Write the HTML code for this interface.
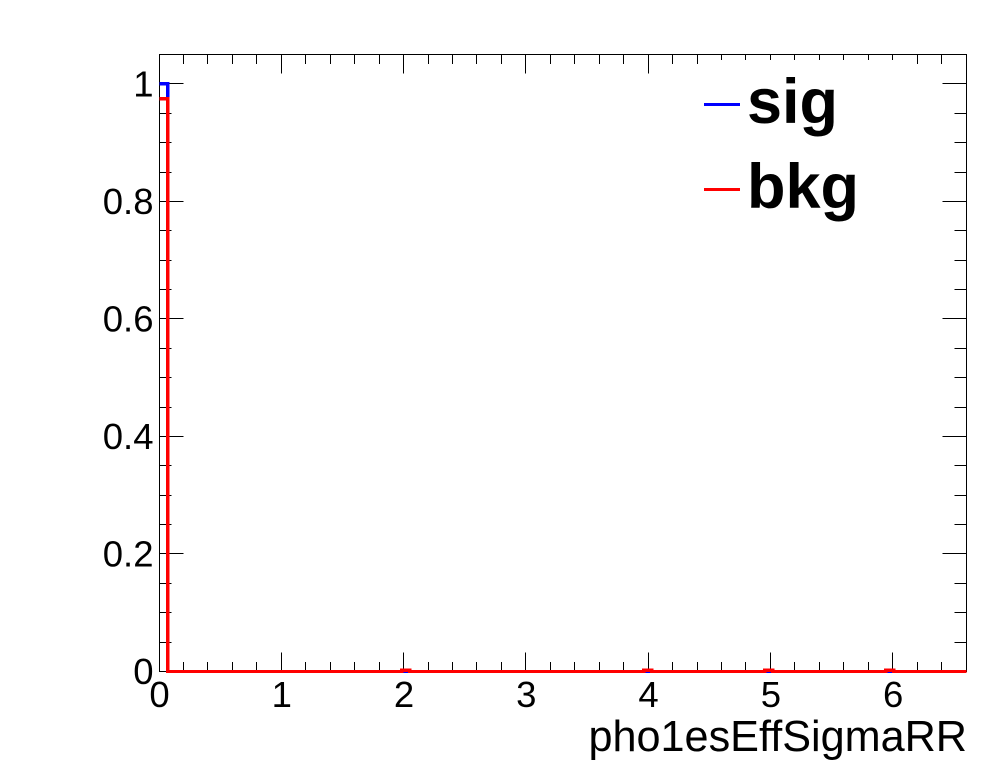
<!DOCTYPE html>
<html>
<head>
<meta charset="utf-8">
<title>pho1esEffSigmaRR</title>
<style>
html,body{margin:0;padding:0;background:#fff;}
svg{display:block;}
text{font-family:"Liberation Sans",sans-serif;fill:#000;}
</style>
</head>
<body>
<svg id="chart" width="996" height="772" viewBox="0 0 996 772" xmlns="http://www.w3.org/2000/svg">
  <rect x="0" y="0" width="996" height="772" fill="#fff"/>
  <g id="ticks"></g>
  <rect x="159.5" y="54.5" width="807" height="617" fill="none" stroke="#000" stroke-width="1" shape-rendering="crispEdges"/>
  <g id="labels"></g>
  <g id="series"></g>
  <g>
    <rect x="698" y="60" width="207" height="165" fill="#fff"/>
    <line x1="704" x2="740" y1="104.5" y2="104.5" stroke="#0000ff" stroke-width="3" shape-rendering="crispEdges"/>
    <text x="747" y="123" font-size="63" font-weight="bold">sig</text>
    <line x1="704" x2="740" y1="189.5" y2="189.5" stroke="#ff0000" stroke-width="3" shape-rendering="crispEdges"/>
    <text x="747" y="208" font-size="63" font-weight="bold">bkg</text>
  </g>
  <text x="967" y="751" font-size="43.2" text-anchor="end">pho1esEffSigmaRR</text>
</svg>
<script>
const binWidth = 0.066;
const sigValues = [
  1,0,0,0,0,0,0,0,0,0, 0,0,0,0,0,0,0,0,0,0,
  0,0,0,0,0,0,0,0,0,0, 0,0,0,0,0,0,0,0,0,0,
  0,0,0,0,0,0,0,0,0,0, 0,0,0,0,0,0,0,0,0,0,
  0,0,0,0,0,0,0,0,0,0, 0,0,0,0,0,0,0,0,0,0,
  0,0,0,0,0,0,0,0,0,0, 0,0,0,0,0,0,0,0,0,0
];
const bkgValues = [
  0.975,0,0,0,0,0,0,0,0,0, 0,0,0,0,0,0,0,0,0,0,
  0,0,0,0,0,0,0,0,0,0, 0.002,0,0,0,0,0,0,0,0,0,
  0,0,0,0,0,0,0,0,0,0, 0,0,0,0,0,0,0,0,0,0,
  0.002,0,0,0,0,0,0,0,0,0, 0,0,0,0,0,0.002,0,0,0,0,
  0,0,0,0,0,0,0,0,0,0, 0.002,0,0,0,0,0,0,0,0,0
];
const xTickLabels = ["0","1","2","3","4","5","6"];
const yTickLabels = ["0","0.2","0.4","0.6","0.8","1"];
const xMinorTicks = [0.2,0.4,0.6,0.8,1.2,1.4,1.6,1.8,2.2,2.4,2.6,2.8,3.2,3.4,3.6,3.8,4.2,4.4,4.6,4.8,5.2,5.4,5.6,5.8,6.2,6.4];
const yMinorTicks = [0.05,0.1,0.15,0.25,0.3,0.35,0.45,0.5,0.55,0.65,0.7,0.75,0.85,0.9,0.95,1.05];
const xMax = 6.6;
const yMax = 1.05;

const NS = "http://www.w3.org/2000/svg";
const plotLeft = 159, plotRight = 966, plotTop = 54.5, plotBottom = 671.5;
const xScale = v => plotLeft + v / xMax * (plotRight - plotLeft);
const yScale = v => plotBottom - v / yMax * (plotBottom - plotTop);
const snap = p => Math.floor(p) + 0.5;

const tickGroup = document.getElementById("ticks");
const labelGroup = document.getElementById("labels");
const seriesGroup = document.getElementById("series");

function tickLine(x1, y1, x2, y2) {
  const el = document.createElementNS(NS, "line");
  el.setAttribute("x1", x1);
  el.setAttribute("y1", y1);
  el.setAttribute("x2", x2);
  el.setAttribute("y2", y2);
  el.setAttribute("stroke", "#000");
  el.setAttribute("stroke-width", "1");
  el.setAttribute("shape-rendering", "crispEdges");
  
  
  tickGroup.appendChild(el);
}
function xTick(v, len) {
  const x = snap(xScale(v));
  tickLine(x, plotBottom, x, plotBottom - len);
  tickLine(x, plotTop, x, plotTop + len);
}
function yTick(v, len) {
  const y = snap(yScale(v));
  tickLine(159.5, y, 159.5 + len, y);
  tickLine(966.5, y, 966.5 - len, y);
}
xTickLabels.forEach(s => xTick(parseFloat(s), 19));
xMinorTicks.forEach(v => xTick(v, 9.5));
yTickLabels.forEach(s => yTick(parseFloat(s), 24));
yMinorTicks.forEach(v => yTick(v, 12));

xTickLabels.forEach(s => {
  const el = document.createElementNS(NS, "text");
  el.setAttribute("x", xScale(parseFloat(s)) + 0.5);
  el.setAttribute("y", 707);
  el.setAttribute("font-size", "36.5");
  el.setAttribute("text-anchor", "middle");
  
  
  el.textContent = s;
  labelGroup.appendChild(el);
});
yTickLabels.forEach(s => {
  const el = document.createElementNS(NS, "text");
  el.setAttribute("x", 153.5);
  el.setAttribute("y", yScale(parseFloat(s)) + 12.5);
  el.setAttribute("font-size", "36.5");
  el.setAttribute("text-anchor", "end");
  
  
  el.textContent = s;
  labelGroup.appendChild(el);
});

function stepPath(values) {
  let d = "M" + (xScale(0) + 0.5) + " " + yScale(values[0]);
  values.forEach((v, i) => {
    d += "L" + (xScale(i * binWidth) + 0.5) + " " + yScale(v);
    d += "L" + (xScale((i + 1) * binWidth) + 0.5) + " " + yScale(v);
  });
  return d;
}
const sigPath = document.createElementNS(NS, "path");
sigPath.setAttribute("d", stepPath(sigValues));
sigPath.setAttribute("fill", "none");
sigPath.setAttribute("stroke", "#0000ff");
sigPath.setAttribute("stroke-width", "3.4");
sigPath.setAttribute("shape-rendering", "crispEdges");


seriesGroup.appendChild(sigPath);

const bkgPath = document.createElementNS(NS, "path");
bkgPath.setAttribute("d", stepPath(bkgValues));
bkgPath.setAttribute("fill", "none");
bkgPath.setAttribute("stroke", "#ff0000");
bkgPath.setAttribute("stroke-width", "3.4");
bkgPath.setAttribute("shape-rendering", "crispEdges");


seriesGroup.appendChild(bkgPath);
</script>
</body>
</html>
